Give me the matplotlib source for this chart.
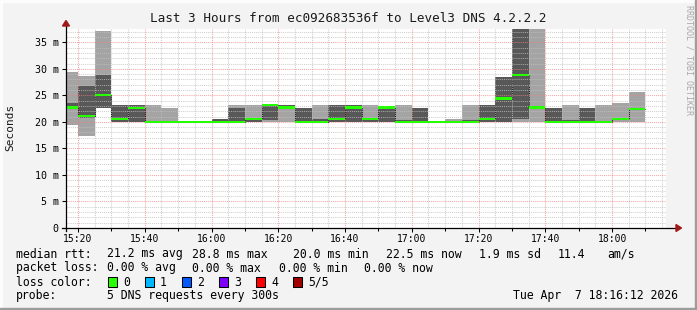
import matplotlib
matplotlib.use('Agg')
import matplotlib.pyplot as plt
from matplotlib.patches import Rectangle, Polygon
from matplotlib.lines import Line2D
import numpy as np

# ---------------- data ----------------
interval_start = ['15:15', '15:20', '15:25', '15:30', '15:35', '15:40', '15:45',
                  '15:50', '15:55', '16:00', '16:05', '16:10', '16:15', '16:20',
                  '16:25', '16:30', '16:35', '16:40', '16:45', '16:50', '16:55',
                  '17:00', '17:05', '17:10', '17:15', '17:20', '17:25', '17:30',
                  '17:35', '17:40', '17:45', '17:50', '17:55', '18:00', '18:05']
# sorted ping rtts (ms) of the 5 DNS requests per interval
ping1 = [19.4, 17.4, 22.7, 20.0, 20.0, 20.0, 20.0, 20.0, 20.0, 20.0, 20.0, 20.0,
         20.0, 20.0, 20.0, 20.0, 20.0, 20.0, 20.0, 20.0, 20.0, 20.0, 20.0, 20.0,
         20.0, 20.0, 20.0, 20.0, 20.0, 20.0, 20.0, 20.0, 20.0, 20.0, 20.0]
ping2 = [22.5, 20.7, 22.7, 20.0, 20.0, 20.0, 20.0, 20.0, 20.0, 20.0, 20.0, 20.0,
         20.4, 22.6, 20.0, 20.0, 20.0, 20.0, 20.0, 20.0, 20.0, 20.0, 20.0, 20.0,
         20.0, 20.0, 20.0, 20.5, 22.6, 20.0, 20.0, 20.0, 20.0, 20.5, 22.5]
median = [22.7, 21.1, 25.0, 20.5, 22.6, 20.0, 20.0, 20.0, 20.0, 20.0, 20.0, 20.5,
          23.2, 22.7, 20.0, 20.0, 20.6, 22.7, 20.5, 22.7, 20.0, 20.0, 20.0, 20.0,
          20.0, 20.6, 24.4, 28.8, 22.7, 20.0, 20.0, 20.0, 20.0, 20.6, 22.5]
ping4 = [23.5, 26.7, 28.8, 23.2, 23.1, 20.0, 20.0, 20.0, 20.0, 20.5, 22.6, 20.6,
         23.3, 23.2, 22.6, 20.5, 23.2, 23.2, 20.6, 22.8, 20.3, 22.6, 20.0, 20.0,
         20.3, 23.2, 28.4, 37.6, 22.8, 22.7, 20.4, 22.7, 20.0, 20.6, 22.6]
ping5 = [29.4, 28.7, 37.1, 23.2, 23.1, 23.2, 22.6, 20.0, 20.0, 20.5, 23.2, 23.2,
         23.3, 23.2, 22.6, 23.2, 23.2, 23.2, 23.2, 22.8, 23.2, 22.6, 20.0, 20.6,
         23.2, 23.2, 28.4, 37.6, 37.6, 22.7, 23.2, 22.7, 23.2, 23.6, 25.6]

x_tick_pos = ['15:20', '15:40', '16:00', '16:20', '16:40', '17:00', '17:20', '17:40', '18:00']
y_ticks = [0, 5, 10, 15, 20, 25, 30, 35]
y_tick_labels = ['0', '5 m', '10 m', '15 m', '20 m', '25 m', '30 m', '35 m']

title = 'Last 3 Hours from ec092683536f to Level3 DNS 4.2.2.2'
rtt_stats = ['21.2 ms avg', '28.8 ms max', '20.0 ms min', '22.5 ms now', '1.9 ms sd', '11.4', 'am/s']
loss_stats = ['0.00 % avg', '0.00 % max', '0.00 % min', '0.00 % now']
loss_labels = ['0', '1', '2', '3', '4', '5/5']
loss_colors = ['#26ff00', '#00b8ff', '#0059ff', '#7e00ff', '#ff0000', '#a10000']
probe_text = '5 DNS requests every 300s'
date_text = 'Tue Apr  7 18:16:12 2026'

# ---------------- helpers ----------------
W, H, DPI = 697, 310, 100
MONO = 'DejaVu Sans Mono'


def to_min(s):
    h, m = s.split(':')
    return int(h) * 60 + int(m) - (15 * 60 + 20)


def fx(px):
    return px / W


def fy(py):
    return 1 - py / H


fig = plt.figure(figsize=(W / DPI, H / DPI), dpi=DPI, facecolor='#f3f3f3')

# frame shading
fig.patches.append(Rectangle((0, fy(2)), 1, 2 / H, transform=fig.transFigure, color='#fcfcfc', zorder=0))
fig.patches.append(Rectangle((0, 0), 2 / W, 1, transform=fig.transFigure, color='#fcfcfc', zorder=0))
fig.patches.append(Rectangle((0, 0), 1, 2 / H, transform=fig.transFigure, color='#9c9c9c', zorder=0))
fig.patches.append(Rectangle((fx(695), 0), 2 / W, 1, transform=fig.transFigure, color='#9c9c9c', zorder=0))

L, R, T, B = 65.5, 666.3, 28.5, 228.0
ax = fig.add_axes([fx(L), fy(B), (R - L) / W, (B - T) / H])
ax.set_facecolor('white')
ax.set_xlim(-3.75, 176.25)
ax.set_ylim(0, 37.6)
for s in ax.spines.values():
    s.set_visible(False)

x = np.array([to_min(s) for s in interval_start], dtype=float)
p1 = np.array(ping1); p2 = np.array(ping2); p3 = np.array(median)
p4 = np.array(ping4); p5 = np.array(ping5)

# smoke
ax.bar(x, p5 - p1, bottom=p1, width=5, align='edge', color='#a4a4a4', lw=0, zorder=2)
ax.bar(x, p4 - p2, bottom=p2, width=5, align='edge', color='#585858', lw=0, zorder=3)
# median step line
edges = np.append(x, x[-1] + 5)
ax.step(edges, np.append(p3, p3[-1]), where='post', color='#202020', lw=0.75, zorder=4)

# grid (drawn on top of the smoke like rrdtool)
dot = (0, (1, 1))
for m in np.arange(-0.0, 176.25, 5):
    major = (m % 20 == 0)
    ax.axvline(m, color='#f08080' if major else '#c0c0c0', alpha=0.7 if major else 0.75,
               lw=0.75, ls=dot, zorder=6)
for v in np.arange(1, 38, 1):
    major = (v % 5 == 0)
    ax.axhline(v, color='#f08080' if major else '#c0c0c0', alpha=0.7 if major else 0.75,
               lw=0.75, ls=dot, zorder=6)

# loss-coloured median band
band = 0.4
ax.bar(x, np.full_like(p3, band), bottom=p3 - band / 2, width=5, align='edge',
       color=loss_colors[0], lw=0, zorder=7)

# ticks and tick labels
ax.set_xticks([to_min(s) for s in x_tick_pos], x_tick_pos)
ax.set_xticks(np.arange(0, 176, 10), minor=True)
ax.set_yticks(y_ticks, y_tick_labels)
ax.tick_params(axis='x', which='major', length=3, width=0.75, pad=1.0, labelsize=7,
               direction='out', color='black')
ax.tick_params(axis='x', which='minor', length=2, width=0.75, direction='out', color='black')
ax.tick_params(axis='y', which='major', length=3, width=0.75, pad=2.0, labelsize=7.2,
               direction='out', color='black')
for lab in ax.get_xticklabels() + ax.get_yticklabels():
    lab.set_family(MONO)

# axis lines with arrows
fig.lines.append(Line2D([fx(62), fx(676)], [fy(228), fy(228)], transform=fig.transFigure,
                        color='black', lw=0.9, zorder=10))
fig.lines.append(Line2D([fx(66), fx(66)], [fy(231), fy(26)], transform=fig.transFigure,
                        color='black', lw=0.9, zorder=10))
arrow_c = '#a01818'
fig.patches.append(Polygon([(fx(676), fy(224.5)), (fx(681.5), fy(228)), (fx(676), fy(231.5))],
                           closed=True, transform=fig.transFigure, color=arrow_c, zorder=11))
fig.patches.append(Polygon([(fx(62.5), fy(26)), (fx(66), fy(20.5)), (fx(69.5), fy(26))],
                           closed=True, transform=fig.transFigure, color=arrow_c, zorder=11))

# texts
fig.text(fx(348.5), fy(19), title, ha='center', va='center', family=MONO, size=9.05, color='#1a1a1a')
fig.text(fx(10.5), fy(127), 'Seconds', rotation=90, ha='center', va='center', family=MONO,
         size=8, color='#1a1a1a')
fig.text(fx(688.5), fy(5), 'RRDTOOL / TOBI OETIKER', rotation=270, ha='center', va='top',
         family=MONO, size=6, color='#a8a8a8')

LS = 8.3
fig.text(fx(16), fy(254), 'median rtt:', ha='left', va='center', family=MONO, size=LS)
for s, px in zip(rtt_stats, [107, 192, 293, 386, 479, 558, 607.5]):
    fig.text(fx(px), fy(254), s, ha='left', va='center', family=MONO, size=LS)
fig.text(fx(16), fy(268), 'packet loss:', ha='left', va='center', family=MONO, size=LS)
for s, px in zip(loss_stats, [107, 192.5, 279, 364]):
    fig.text(fx(px), fy(268), s, ha='left', va='center', family=MONO, size=LS)
fig.text(fx(16), fy(282), 'loss color:', ha='left', va='center', family=MONO, size=LS)
for i, (lab, col) in enumerate(zip(loss_labels, loss_colors)):
    bx = 108 + 37 * i
    fig.patches.append(Rectangle((fx(bx), fy(287)), 8.5 / W, 10 / H, transform=fig.transFigure,
                                 facecolor=col, edgecolor='black', lw=0.75, zorder=5))
    fig.text(fx(bx + 15), fy(282), lab, ha='left', va='center', family=MONO, size=LS)
fig.text(fx(16), fy(296), 'probe:', ha='left', va='center', family=MONO, size=LS)
fig.text(fx(107), fy(296), probe_text, ha='left', va='center', family=MONO, size=LS)
fig.text(fx(513), fy(296), date_text, ha='left', va='center', family=MONO, size=LS)

fig.savefig('out.png', dpi=DPI, facecolor=fig.get_facecolor())
